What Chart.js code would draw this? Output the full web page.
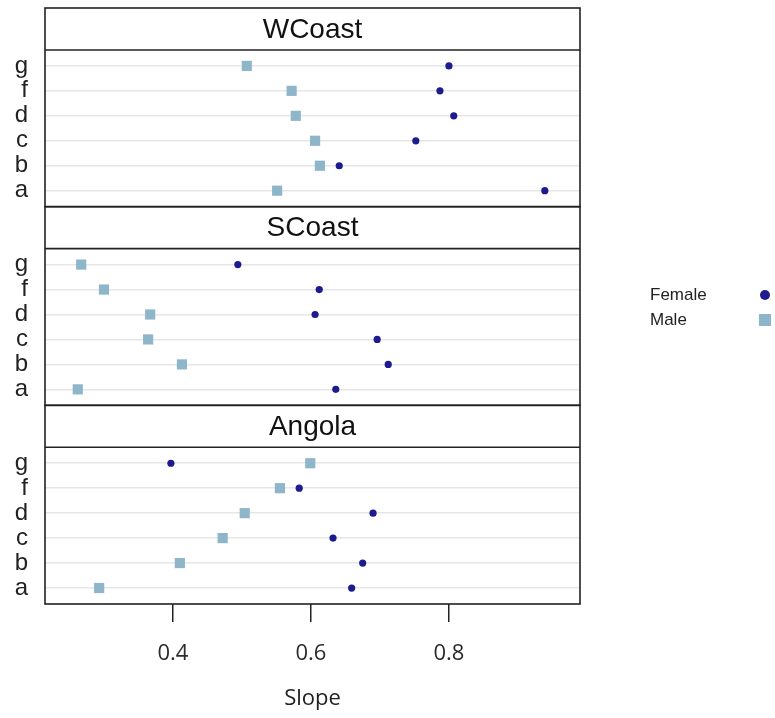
<!DOCTYPE html>
<html>
<head>
<meta charset="utf-8">
<script src="https://cdn.jsdelivr.net/npm/chart.js@4"></script>
<style>
  html, body { margin: 0; padding: 0; background: #fff; }
  #wrap { width: 775px; height: 718px; }
</style>
</head>
<body>
<div id="wrap"><canvas id="slope" width="775" height="718"></canvas></div>
<script>
// panels listed bottom to top, categories bottom to top
const panels = ['Angola', 'SCoast', 'WCoast'];
const categories = ['a', 'b', 'c', 'd', 'f', 'g'];
const xTicks = [0.4, 0.6, 0.8];

const femaleAngola = [0.659, 0.675, 0.632, 0.690, 0.583, 0.397];
const maleAngola   = [0.293, 0.410, 0.472, 0.504, 0.555, 0.599];
const femaleSCoast = [0.636, 0.712, 0.696, 0.606, 0.612, 0.494];
const maleSCoast   = [0.262, 0.413, 0.364, 0.367, 0.300, 0.267];
const femaleWCoast = [0.939, 0.641, 0.752, 0.807, 0.787, 0.800];
const maleWCoast   = [0.551, 0.613, 0.606, 0.578, 0.572, 0.507];

const femaleByPanel = [femaleAngola, femaleSCoast, femaleWCoast];
const maleByPanel = [maleAngola, maleSCoast, maleWCoast];

// vertical units: one row = 1
const PANEL_H = 6.28;
const STRIP_H = 1.68;
const ROW_PAD = 0.64;
const BLOCK = PANEL_H + STRIP_H;

function rowY(p, i) {
    return p * BLOCK + ROW_PAD + i;
}

const rowTicks = [];
panels.forEach((name, p) => {
    categories.forEach((c, i) => rowTicks.push(rowY(p, i)));
});

function points(lists) {
    const out = [];
    lists.forEach((vals, p) => {
        vals.forEach((v, i) => out.push({ x: v, y: rowY(p, i) }));
    });
    return out;
}

// strips, panel borders and legend
const latticePlugin = {
    id: 'lattice',
    afterDatasetsDraw(chart) {
        const ctx = chart.ctx;
        const xs = chart.scales.x;
        const ys = chart.scales.y;
        const left = xs.left, right = xs.right;
        ctx.save();
        ctx.strokeStyle = '#222';
        ctx.lineWidth = 1.6;
        panels.forEach((name, p) => {
            const base = p * BLOCK;
            const yBottom = ys.getPixelForValue(base);
            const yMid = ys.getPixelForValue(base + PANEL_H);
            const yTop = ys.getPixelForValue(base + BLOCK);
            ctx.strokeRect(left, yTop, right - left, yBottom - yTop);
            ctx.beginPath();
            ctx.moveTo(left, yMid);
            ctx.lineTo(right, yMid);
            ctx.stroke();
            ctx.fillStyle = '#111';
            ctx.font = '28px "Liberation Sans", Arial, sans-serif';
            ctx.textAlign = 'center';
            ctx.textBaseline = 'middle';
            ctx.fillText(name, (left + right) / 2, (yTop + yMid) / 2 + 1);
        });

        // legend, marker on the right of the label
        ctx.font = '17px "Liberation Sans", Arial, sans-serif';
        ctx.textAlign = 'left';
        chart.data.datasets.forEach((ds, k) => {
            const y = 295 + k * 25;
            ctx.fillStyle = '#222';
            ctx.fillText(ds.label, 650, y);
            ctx.fillStyle = ds.backgroundColor;
            if (ds.pointStyle === 'circle') {
                ctx.beginPath();
                ctx.arc(765, y, 5, 0, Math.PI * 2);
                ctx.fill();
            } else {
                ctx.fillRect(759, y - 6, 12, 12);
            }
        });
        ctx.restore();
    }
};

new Chart(document.getElementById('slope'), {
    type: 'scatter',
    data: {
        datasets: [{
            label: 'Female',
            data: points(femaleByPanel),
            pointStyle: 'circle',
            pointRadius: 3.6,
            backgroundColor: '#1d1b8e',
            borderWidth: 0
        }, {
            label: 'Male',
            data: points(maleByPanel),
            pointStyle: 'rect',
            pointRadius: 7.2,
            backgroundColor: '#8fb5cb',
            borderWidth: 0
        }]
    },
    options: {
        responsive: false,
        animation: false,
        events: [],
        layout: {
            padding: { top: 8, right: 195, bottom: 0, left: 0 }
        },
        plugins: {
            legend: { display: false },
            tooltip: { enabled: false }
        },
        scales: {
            x: {
                type: 'linear',
                min: 0.2145,
                max: 0.99,
                afterBuildTicks: (s) => { s.ticks = xTicks.map(v => ({ value: v })); },
                afterFit: (s) => { s.height = 114; s.paddingLeft = 0; s.paddingRight = 0; },
                border: { display: false },
                grid: {
                    drawOnChartArea: false,
                    drawTicks: true,
                    tickLength: 18,
                    color: '#222',
                    lineWidth: 1.5
                },
                ticks: {
                    padding: 19,
                    color: '#2b2b2b',
                    font: { family: '"Open Sans", sans-serif', size: 22 },
                    callback: (v) => v.toFixed(1)
                },
                title: {
                    display: true,
                    text: 'Slope',
                    color: '#222',
                    padding: { top: 0, bottom: 6 },
                    font: { family: '"Open Sans", sans-serif', size: 22 }
                }
            },
            y: {
                type: 'linear',
                min: 0,
                max: panels.length * BLOCK,
                afterBuildTicks: (s) => { s.ticks = rowTicks.map(v => ({ value: v })); },
                afterFit: (s) => { s.width = 45; s.paddingTop = 0; s.paddingBottom = 0; },
                border: { display: false },
                grid: {
                    drawTicks: false,
                    color: '#e6e6e6',
                    lineWidth: 1.5
                },
                ticks: {
                    padding: 17,
                    color: '#222',
                    font: { family: '"Liberation Sans", Arial, sans-serif', size: 24 },
                    callback: (v, i) => categories[i % categories.length]
                }
            }
        }
    },
    plugins: [latticePlugin]
});
</script>
</body>
</html>
